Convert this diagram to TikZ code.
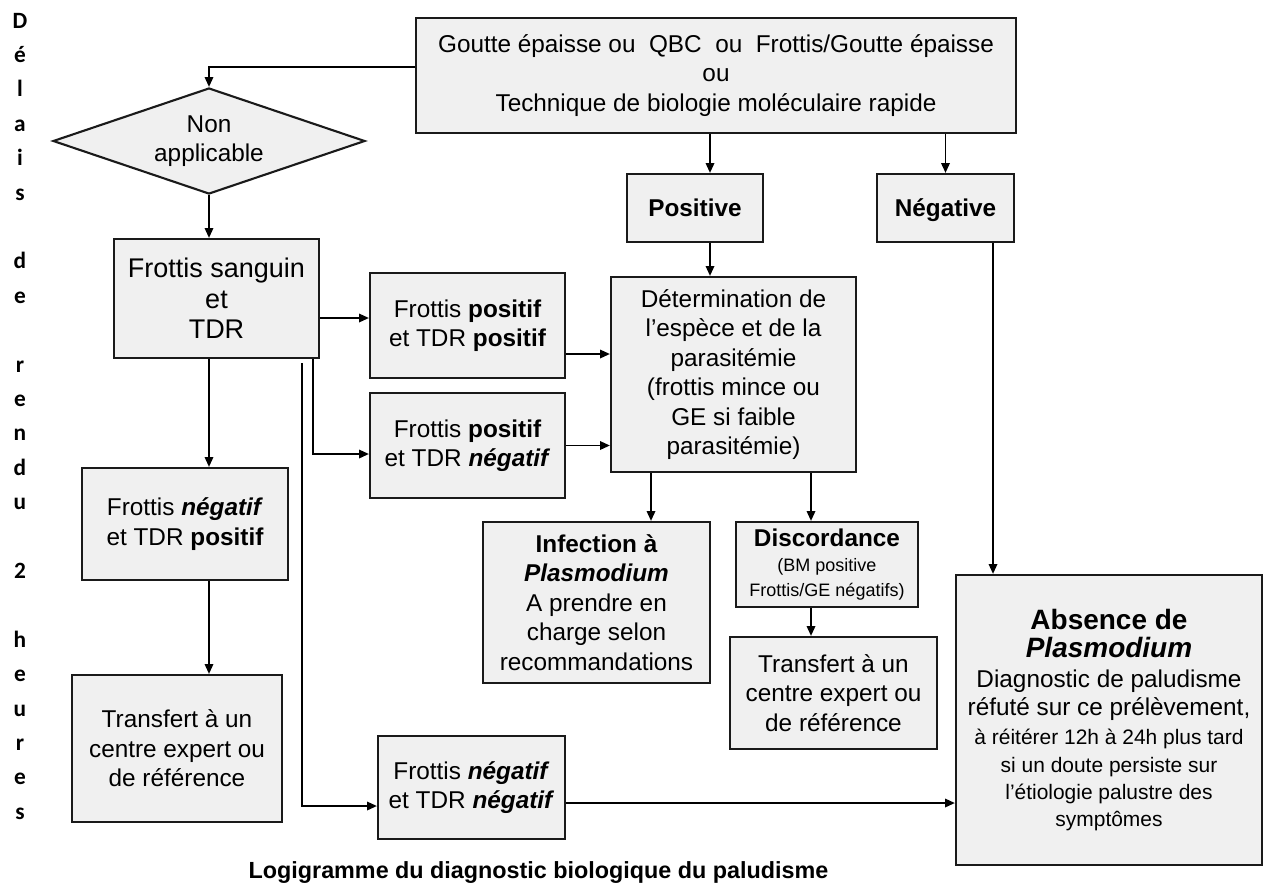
\documentclass[tikz,border=0pt]{standalone}
\usepackage{fontspec}
\setmainfont{Liberation Sans}
\newfontfamily\calfont{Carlito}
\usepackage{tikz}
\usetikzlibrary{shapes.geometric}
\usetikzlibrary{arrows.meta}
\definecolor{boxgray}{RGB}{240,240,240}
\definecolor{boxline}{RGB}{26,26,26}
\newcommand{\bodysize}{\fontsize{17.3pt}{21pt}\selectfont}
\newcommand{\bigsize}{\fontsize{19.2pt}{21.6pt}\selectfont}
\newcommand{\smallsize}{\fontsize{12.8pt}{17.8pt}\selectfont}
\newcommand{\notesize}{\fontsize{14.9pt}{18.8pt}\selectfont}
\newcommand{\headsize}{\fontsize{19.9pt}{20.3pt}\selectfont}

\begin{document}
\begin{tikzpicture}[
x = 0.025cm, y = -0.025cm,
modrect/.style={rectangle, align = center, 
draw = boxline, 
fill = boxgray, line width = 1.5pt, inner sep = 0pt, font = \bodysize}, 
decrect/.style={diamond, align = center, 
draw = boxline, 
fill = boxgray, line width = 1.5pt, inner sep = 0pt, aspect = 2.9, font = \bodysize}, 
modarr/.style={>={Triangle[length=7pt,width=6pt]}, ->, line width = 1.3pt, draw = black}, 
letter/.style={anchor = base, inner sep = 0pt, font = \calfont\bfseries\fontsize{16.6pt}{16.6pt}\selectfont}]

\useasboundingbox (0,0) rectangle (1269,884);

% colonne des delais
\foreach \ch [count=\k from 0] in {D,é,l,a,i,s,,d,e,,r,e,n,d,u,,2,,h,e,u,r,e,s}
  \node[letter] (d\k) at (20, 28+34.4*\k) {\ch};

\node[modrect, minimum width = 15cm, minimum height = 2.875cm] (tech) at (716,75.5) {Goutte épaisse ou~ QBC~ ou~ Frottis/Goutte épaisse\\ou\\Technique de biologie moléculaire rapide};
\node[decrect, minimum width = 7.8cm, minimum height = 2.65cm] (nonapp) at (209,141) {Non\\applicable};
\node[modrect, minimum width = 5.125cm, minimum height = 2.975cm, font = \bigsize] (sanguin) at (216.5,298.5) {Frottis sanguin\\et\\TDR};

\node[modrect, minimum width = 4.875cm, minimum height = 2.625cm] (pospos) at (467.5,325.5) {Frottis \textbf{positif}\\et TDR \textbf{positif}};
\node[modrect, minimum width = 4.875cm, minimum height = 2.625cm] (posneg) at (467.5,445.5) {Frottis \textbf{positif}\\et TDR \textbf{\textit{négatif}}};
\node[modrect, minimum width = 5.15cm, minimum height = 2.8cm] (negpos) at (185,524) {Frottis \textbf{\textit{négatif}}\\et TDR \textbf{positif}};
\node[modrect, minimum width = 5.25cm, minimum height = 3.675cm] (trans1) at (177,748.5) {Transfert à un\\centre expert ou\\de référence};
\node[modrect, minimum width = 4.675cm, minimum height = 2.575cm] (negneg) at (471.5,787.5) {Frottis \textbf{\textit{négatif}}\\et TDR \textbf{\textit{négatif}}};

\node[modrect, minimum width = 3.4cm, minimum height = 1.7cm, text height = 12.4pt, text depth = 0pt] (positive) at (695,208) {\textbf{Positive}};
\node[modrect, minimum width = 3.425cm, minimum height = 1.7cm, text height = 12.4pt, text depth = 0pt] (negative) at (945.5,208) {\textbf{Négative}};
\node[modrect, minimum width = 6.125cm, minimum height = 4.875cm] (determ) at (733.5,374.5) {Détermination de\\l’espèce et de la\\parasitémie\\(frottis mince ou\\GE si faible\\parasitémie)};
\node[modrect, minimum width = 5.675cm, minimum height = 4.025cm] (infection) at (596.5,602.5) {\textbf{Infection à}\\\textbf{\textit{Plasmodium}}\\A prendre en\\charge selon\\recommandations};
\node[modrect, minimum width = 4.55cm, minimum height = 2.125cm, font = \smallsize] (discord) at (827,564.5) {{\bodysize\bfseries Discordance}\\(BM positive\\Frottis/GE négatifs)};
\node[modrect, minimum width = 5.175cm, minimum height = 2.8cm] (trans2) at (833.5,693) {Transfert à un\\centre expert ou\\de référence};
\node[modrect, minimum width = 7.65cm, minimum height = 7.25cm, font = \notesize] (absence) at (1109,720) {{\headsize\bfseries Absence de}\\[1.1pt]{\headsize\bfseries\itshape Plasmodium}\\[2.6pt]{\bodysize Diagnostic de paludisme}\\[1.1pt]{\bodysize réfuté sur ce prélèvement,}\\[1.8pt]à réitérer 12h à 24h plus tard\\[1.1pt]si un doute persiste sur\\[0.4pt]l’étiologie palustre des\\symptômes};

\node[anchor = base, inner sep = 0pt, font = \bfseries\fontsize{16.6pt}{16.6pt}\selectfont] (titre) at (538.5,878) {Logigramme du diagnostic biologique du paludisme};

% points de passage des fleches
\coordinate (g1) at (0,67);
\coordinate (g2) at (0,318);
\coordinate (g3) at (313,454);
\coordinate (g4) at (302,363);
\coordinate (g4b) at (0,806);
\coordinate (g5) at (0,354);
\coordinate (g6) at (710,0);
\coordinate (g7) at (993,0);
\coordinate (g8) at (651,0);
\coordinate (g9) at (811,0);
\coordinate (g10) at (0,803);

\draw[modarr] (tech.west |- g1) -| (nonapp.north);
\draw[modarr] (nonapp.south) -- (sanguin.north -| nonapp.south);
\draw[modarr] (sanguin.east |- g2) -- (pospos.west |- g2);
\draw[modarr] (sanguin.south -| g3) |- (posneg.west |- g3);
\draw[modarr] (g4) |- (negneg.west |- g4b);
\draw[modarr] (sanguin.south -| nonapp.south) -- (negpos.north -| nonapp.south);
\draw[modarr] (negpos.south -| nonapp.south) -- (trans1.north -| nonapp.south);
\draw[modarr] (pospos.east |- g5) -- (determ.west |- g5);
\draw[modarr] (posneg.east) -- (posneg.east -| determ.west);
\draw[modarr] (tech.south -| g6) -- (positive.north -| g6);
\draw[modarr] (positive.south -| g6) -- (determ.north -| g6);
\draw[modarr] (tech.south -| negative.north) -- (negative.north);
\draw[modarr] (negative.south -| g7) -- (absence.north -| g7);
\draw[modarr] (determ.south -| g8) -- (infection.north -| g8);
\draw[modarr] (determ.south -| g9) -- (discord.north -| g9);
\draw[modarr] (discord.south -| g9) -- (trans2.north -| g9);
\draw[modarr] (negneg.east |- g10) -- (absence.west |- g10);
\end{tikzpicture}
\end{document}
